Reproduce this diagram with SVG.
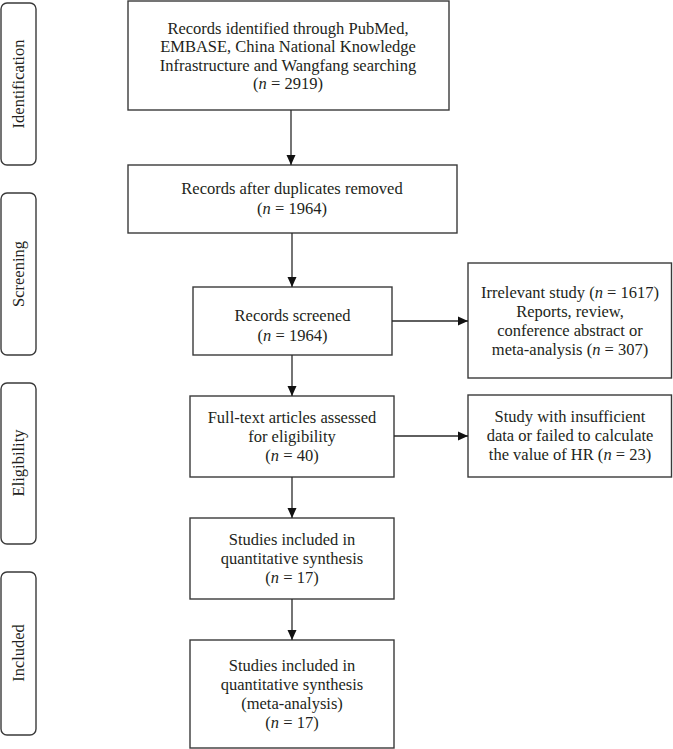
<svg xmlns="http://www.w3.org/2000/svg" width="673" height="749" viewBox="0 0 673 749">
<style>
.box{fill:#fff;stroke:#3a3a3a;stroke-width:1.4}
.side{fill:#fff;stroke:#3a3a3a;stroke-width:1.4}
.t{font-family:"Liberation Serif","Times New Roman",serif;font-size:16.5px;fill:#231f20;text-anchor:middle}
.c{stroke:#2a2a2a;stroke-width:1.3;fill:none}
</style>
<defs>
<marker id="ah" viewBox="0 0 10 10" refX="10" refY="5" markerWidth="10" markerHeight="10" markerUnits="userSpaceOnUse" orient="auto">
<path d="M0,0.5 L10,5 L0,9.5 Z" fill="#111"/>
</marker>
</defs>
<rect width="673" height="749" fill="#fff"/>

<g id="stage-identification">
<rect class="side" x="1" y="3" width="35" height="162" rx="6"/>
<text class="t" transform="translate(24,84) rotate(-90)">Identification</text>
</g>
<g id="stage-screening">
<rect class="side" x="1" y="193" width="35" height="162" rx="6"/>
<text class="t" transform="translate(24,274) rotate(-90)">Screening</text>
</g>
<g id="stage-eligibility">
<rect class="side" x="1" y="383" width="35" height="161" rx="6"/>
<text class="t" transform="translate(24,463) rotate(-90)">Eligibility</text>
</g>
<g id="stage-included">
<rect class="side" x="1" y="572" width="35" height="163" rx="6"/>
<text class="t" transform="translate(24,653) rotate(-90)">Included</text>
</g>

<g id="n-identified">
<rect class="box" x="128" y="1" width="321" height="109"/>
<text class="t" x="288" y="33.5">Records identified through PubMed,</text>
<text class="t" x="288" y="52">EMBASE, China National Knowledge</text>
<text class="t" x="288" y="70.5">Infrastructure and Wangfang searching</text>
<text class="t" x="288" y="89">(<tspan font-style="italic">n</tspan> = 2919)</text>
</g>
<g id="n-deduplicated">
<rect class="box" x="128" y="165" width="329" height="68"/>
<text class="t" x="292" y="194">Records after duplicates removed</text>
<text class="t" x="292" y="213.5">(<tspan font-style="italic">n</tspan> = 1964)</text>
</g>
<g id="n-screened">
<rect class="box" x="193" y="287" width="199" height="68"/>
<text class="t" x="292.5" y="321">Records screened</text>
<text class="t" x="292.5" y="341">(<tspan font-style="italic">n</tspan> = 1964)</text>
</g>
<g id="n-excluded1">
<rect class="box" x="468" y="263" width="203.5" height="115"/>
<text class="t" x="570" y="297.5">Irrelevant study (<tspan font-style="italic">n</tspan> = 1617)</text>
<text class="t" x="570" y="316.5">Reports, review,</text>
<text class="t" x="570" y="335.5">conference abstract or</text>
<text class="t" x="570" y="354.5">meta-analysis (<tspan font-style="italic">n</tspan> = 307)</text>
</g>
<g id="n-fulltext">
<rect class="box" x="190" y="396" width="204" height="81"/>
<text class="t" x="292" y="422.5">Full-text articles assessed</text>
<text class="t" x="292" y="441.5">for eligibility</text>
<text class="t" x="292" y="460.5">(<tspan font-style="italic">n</tspan> = 40)</text>
</g>
<g id="n-excluded2">
<rect class="box" x="468" y="395" width="203.5" height="82"/>
<text class="t" x="570" y="421.5">Study with insufficient</text>
<text class="t" x="570" y="440.5">data or failed to calculate</text>
<text class="t" x="570" y="459.5">the value of HR (<tspan font-style="italic">n</tspan> = 23)</text>
</g>
<g id="n-qualitative">
<rect class="box" x="190" y="518" width="204" height="81"/>
<text class="t" x="292" y="544.5">Studies included in</text>
<text class="t" x="292" y="563.5">quantitative synthesis</text>
<text class="t" x="292" y="582.5">(<tspan font-style="italic">n</tspan> = 17)</text>
</g>
<g id="n-meta">
<rect class="box" x="190" y="640" width="204" height="108"/>
<text class="t" x="292" y="670.5">Studies included in</text>
<text class="t" x="292" y="689.5">quantitative synthesis</text>
<text class="t" x="292" y="708.5">(meta-analysis)</text>
<text class="t" x="292" y="727.5">(<tspan font-style="italic">n</tspan> = 17)</text>
</g>

<g id="connectors">
<line class="c" x1="291" y1="110" x2="291" y2="165" marker-end="url(#ah)"/>
<line class="c" x1="292" y1="233" x2="292" y2="287" marker-end="url(#ah)"/>
<line class="c" x1="392" y1="321" x2="468" y2="321" marker-end="url(#ah)"/>
<line class="c" x1="292" y1="355" x2="292" y2="396" marker-end="url(#ah)"/>
<line class="c" x1="394" y1="436" x2="468" y2="436" marker-end="url(#ah)"/>
<line class="c" x1="292" y1="477" x2="292" y2="518" marker-end="url(#ah)"/>
<line class="c" x1="292" y1="599" x2="292" y2="640" marker-end="url(#ah)"/>
</g>
</svg>
